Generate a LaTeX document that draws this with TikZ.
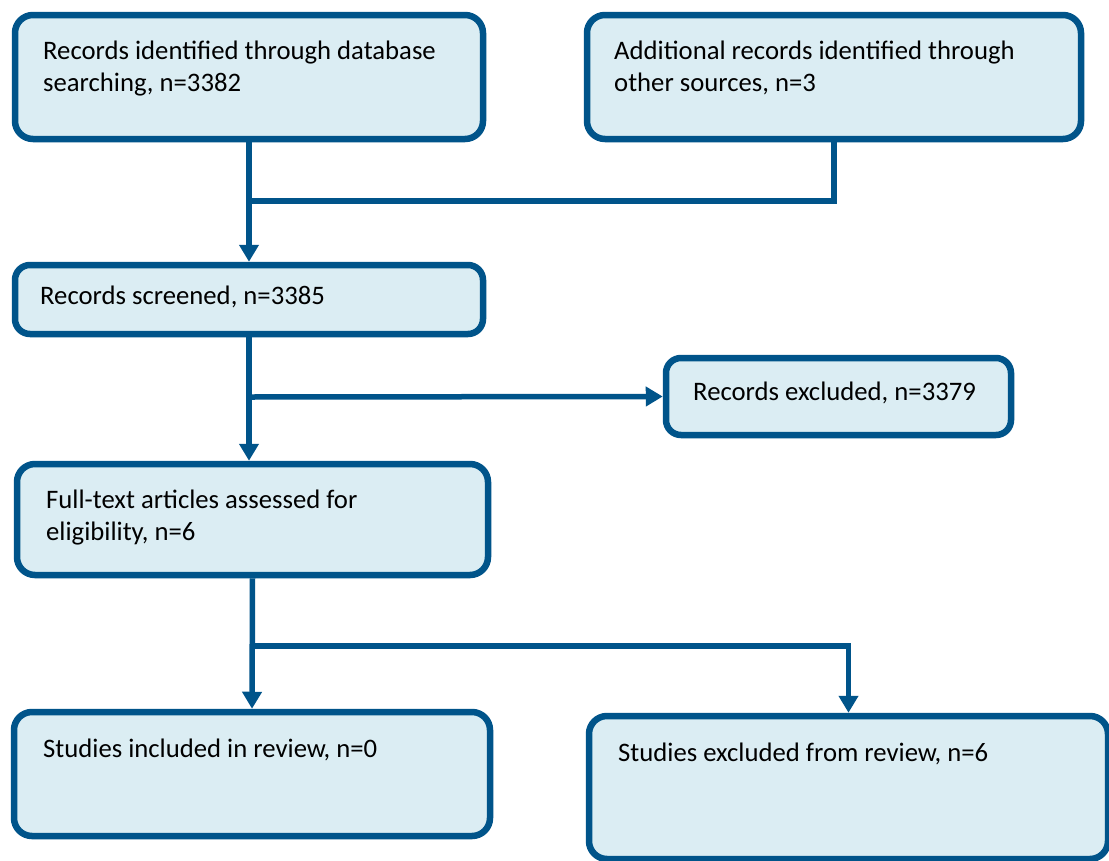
\documentclass[tikz,border=0pt]{standalone}
\usepackage{fontspec}
\setmainfont{Carlito}
\usetikzlibrary{arrows.meta}
\definecolor{flowline}{RGB}{0,84,138}
\definecolor{flowfill}{RGB}{219,237,243}

\begin{document}
\begin{tikzpicture}[x=1pt,y=-1pt,
    box/.style={draw=flowline,fill=flowfill,line width=6.5pt,rounded corners=18pt,inner sep=0pt},
    lbl/.style={inner sep=0pt,anchor=base west,align=left,font=\fontsize{26.7}{32}\selectfont},
    flow/.style={draw=flowline,line width=5.5pt},
    arr/.style={flow,-{Triangle[width=19pt,length=17pt]}}]
  \useasboundingbox[fill=white] (0,0) rectangle (1109,860);
  % boxes
  \node[box,minimum width=468pt,minimum height=124pt] (dbsearch) at (249,77) {};
  \node[box,minimum width=494pt,minimum height=124pt] (othersrc) at (834,77) {};
  \node[box,minimum width=468pt,minimum height=69pt,rounded corners=15pt] (screened) at (249,299.5) {};
  \node[box,minimum width=345pt,minimum height=77pt,rounded corners=15pt] (recexcl) at (838.5,396.5) {};
  \node[box,minimum width=471pt,minimum height=111pt] (fulltext) at (252.5,519.5) {};
  \node[box,minimum width=476pt,minimum height=124pt] (included) at (252,774) {};
  \node[box,minimum width=519pt,minimum height=143pt] (studexcl) at (848.5,787.5) {};
  % texts (two-line texts sit on the baseline of their last line)
  \node[lbl] (dbsearch-t) at (43,91) {Records identified through database\\searching, n=3382};
  \node[lbl] (othersrc-t) at (614,91) {Additional records identified through\\other sources, n=3};
  \node[lbl] (screened-t) at (40,304) {Records screened, n=3385};
  \node[lbl] (recexcl-t) at (693,400) {Records excluded, n=3379};
  \node[lbl] (fulltext-t) at (46,540) {Full-text articles assessed for\\eligibility, n=6};
  \node[lbl] (included-t) at (43,757) {Studies included in review, n=0};
  \node[lbl] (studexcl-t) at (618,761) {Studies excluded from review, n=6};
  % connectors
  \coordinate (join1) at (249,201);
  \coordinate (join2) at (249,397);
  \coordinate (join3) at (252,646);
  \draw[arr] (dbsearch.south) -- (screened.north);
  \draw[flow] (othersrc.south) |- (join1);
  \draw[arr] (screened.south) -- (screened.south |- fulltext.north);
  \draw[arr] (join2) -- (recexcl.west);
  \draw[arr] (fulltext.south) -- (included.north);
  \draw[arr] (join3) -| (studexcl.north);
\end{tikzpicture}
\end{document}
